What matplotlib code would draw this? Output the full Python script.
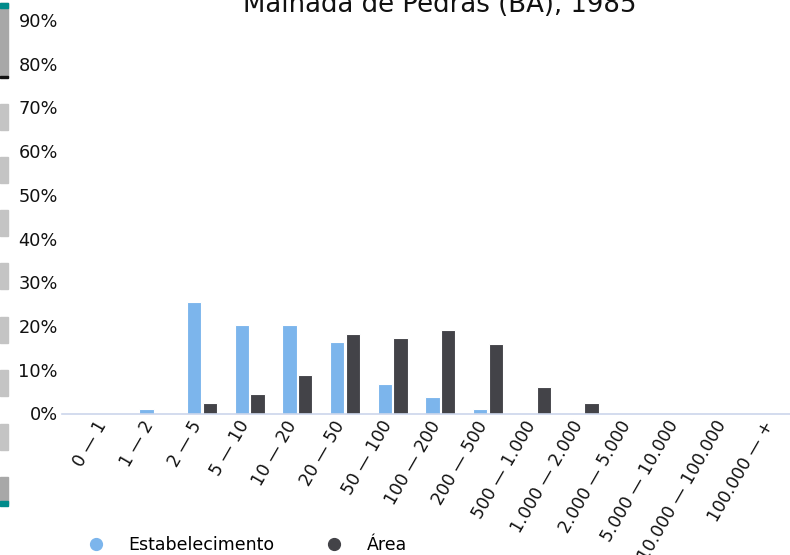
import matplotlib.pyplot as plt
import numpy as np
from matplotlib.patches import Rectangle
from matplotlib.lines import Line2D
from matplotlib.ticker import FuncFormatter

# classes de área (ha)
categorias = ['0 — 1', '1 — 2', '2 — 5', '5 — 10', '10 — 20', '20 — 50',
              '50 — 100', '100 — 200', '200 — 500', '500 — 1.000',
              '1.000 — 2.000', '2.000 — 5.000', '5.000 — 10.000',
              '10.000 — 100.000', '100.000 — +']

# percentuais
estabelecimento = [0, 1.1, 25.4, 20.2, 20.2, 16.3, 6.8, 3.7, 1.1, 0, 0, 0, 0, 0, 0]
area = [0, 0, 2.3, 4.4, 8.8, 18.1, 17.2, 19.2, 15.8, 6.0, 2.5, 0, 0, 0, 0]

cor_estab = '#7cb5ec'
cor_area = '#434348'

W, H = 790, 555
fig = plt.figure(figsize=(W / 100, H / 100), dpi=100)

# eixo: 0% em y=413.5, 90% em y=20
ax = fig.add_axes([62 / W, (H - 413.5) / H, (790 - 62) / W, (413.5 - 20) / H])

x = np.arange(len(categorias))
larg = 0.30
ax.bar(x - 0.165, estabelecimento, larg, color=cor_estab, edgecolor='white', linewidth=0.8)
ax.bar(x + 0.165, area, larg, color=cor_area, edgecolor='white', linewidth=0.8)

ax.set_xlim(-0.935, 14.33)
ax.set_ylim(0, 90)
ax.set_yticks(np.arange(0, 91, 10))
ax.yaxis.set_major_formatter(FuncFormatter(lambda v, p: f'{v:.0f}%'))

for s in ['top', 'right', 'left']:
    ax.spines[s].set_visible(False)
ax.spines['bottom'].set_color('#ccd6eb')
ax.spines['bottom'].set_linewidth(1.2)

ax.tick_params(axis='y', length=0, pad=3, labelsize=12.8, labelcolor='#111111')
ax.tick_params(axis='x', length=0, pad=8)
ax.set_xticks(x)
ax.set_xticklabels(categorias, rotation=60, ha='right', va='baseline',
                   rotation_mode='anchor', fontsize=12.3, color='#111111')

fig.text(440 / W, 1 - 12 / H, 'Malhada de Pedras (BA), 1985', ha='center',
         va='baseline', fontsize=18.7, color='#111111')

# legenda
handles = [Line2D([], [], marker='o', linestyle='', markersize=8.5, color=cor_estab),
           Line2D([], [], marker='o', linestyle='', markersize=8.5, color=cor_area)]
fig.legend(handles, ['Estabelecimento', 'Área'], ncol=2, frameon=False,
           loc='center left', bbox_to_anchor=(87 / W, 1 - 545 / H),
           fontsize=12.5, handletextpad=1.4, columnspacing=2.9,
           borderaxespad=0, borderpad=0, handlelength=1.0)

# barra lateral cinza (artefato da captura)
def faixa(y0, y1, cor):
    fig.patches.append(Rectangle((0, 1 - y1 / H), 8 / W, (y1 - y0) / H,
                                 transform=fig.transFigure, color=cor))

faixa(3, 77, '#a8a8a8')
faixa(3, 8, '#008b8b')
faixa(75.5, 78, '#111111')
for y0 in [104, 157, 210, 263, 317, 370, 424]:
    faixa(y0, y0 + 26, '#c4c4c4')
faixa(477, 504, '#a8a8a8')
faixa(501, 506, '#008b8b')

fig.savefig('out.png', dpi=100)
